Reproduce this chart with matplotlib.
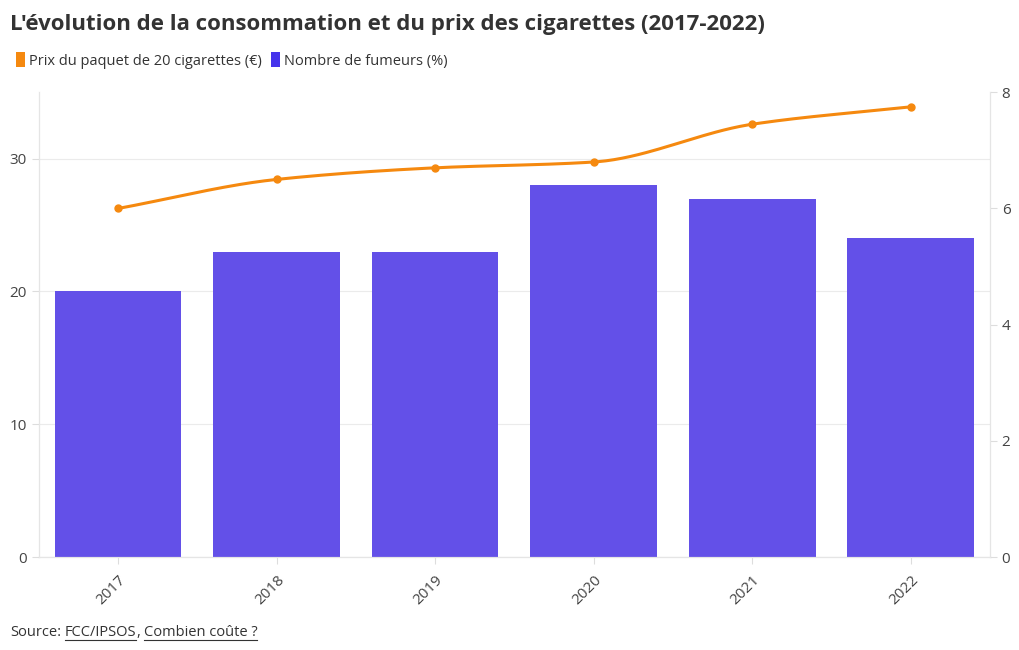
import numpy as np
import matplotlib
matplotlib.use("Agg")
import matplotlib.pyplot as plt
from matplotlib.patches import Patch

plt.rcParams['font.family'] = ['Open Sans', 'DejaVu Sans']

years = ["2017", "2018", "2019", "2020", "2021", "2022"]
fumeurs = [20, 23, 23, 28, 27, 24]            # Nombre de fumeurs (%)
prix = [6.0, 6.5, 6.7, 6.8, 7.45, 7.75]       # Prix du paquet (EUR)

bar_color = "#6350E8"
legend_blue = "#4634EC"
orange = "#F5890F"
text_color = "#333333"
grid_color = "#EBEBEB"


def monotone_curve(x, y, n=40):
    # monotone cubic (Fritsch-Carlson) just for drawing the smooth line
    x = np.asarray(x, float)
    y = np.asarray(y, float)
    h = np.diff(x)
    d = np.diff(y) / h
    m = np.zeros_like(y)
    m[0], m[-1] = d[0], d[-1]
    for i in range(1, len(y) - 1):
        if d[i - 1] * d[i] <= 0:
            m[i] = 0
        else:
            w1 = 2 * h[i] + h[i - 1]
            w2 = h[i] + 2 * h[i - 1]
            m[i] = (w1 + w2) / (w1 / d[i - 1] + w2 / d[i])
    xs, ys = [], []
    for i in range(len(x) - 1):
        t = np.linspace(0, 1, n)
        h00 = 2 * t**3 - 3 * t**2 + 1
        h10 = t**3 - 2 * t**2 + t
        h01 = -2 * t**3 + 3 * t**2
        h11 = t**3 - t**2
        xs.append(x[i] + t * h[i])
        ys.append(h00 * y[i] + h10 * h[i] * m[i] + h01 * y[i + 1] + h11 * h[i] * m[i + 1])
    return np.concatenate(xs), np.concatenate(ys)


fig = plt.figure(figsize=(10.2, 6.5), dpi=100)
ax = fig.add_axes([0.038, 0.143, 0.9325, 0.715])
pos = np.arange(len(years))

ax.bar(pos, fumeurs, width=0.8, color=bar_color, zorder=2)
ax.set_xlim(-0.5, len(years) - 0.5)
ax.set_ylim(0, 35)
ax.set_yticks([0, 10, 20, 30])
ax.grid(axis="y", color=grid_color, linewidth=0.8, zorder=0)
ax.set_xticks(pos)
ax.set_xticklabels(years, rotation=45, ha="right", rotation_mode="anchor")
ax.tick_params(axis="both", colors="#DDDDDD", labelcolor="#444444", labelsize=11, length=5)
ax.tick_params(axis="x", pad=6)

ax2 = ax.twinx()
ax2.set_ylim(0, 8)
ax2.set_yticks([0, 2, 4, 6, 8])
ax2.tick_params(axis="y", colors="#DDDDDD", labelcolor="#444444", labelsize=11, length=5)
cx, cy = monotone_curve(pos, prix)
ax2.plot(cx, cy, color=orange, linewidth=2.2, zorder=3)
ax2.plot(pos, prix, "o", color=orange, markersize=5, zorder=4)

for a in (ax, ax2):
    a.spines["top"].set_visible(False)
    a.spines["bottom"].set_color("#E5E5E5")
    a.spines["left"].set_color("#E5E5E5")
    a.spines["right"].set_color("#E5E5E5")

fig.text(0.010, 0.962, "L'évolution de la consommation et du prix des cigarettes (2017-2022)",
         fontsize=16, fontweight="bold", color=text_color, va="center", ha="left")

handles = [Patch(facecolor=orange, edgecolor="none", label="Prix du paquet de 20 cigarettes (€)"),
           Patch(facecolor=legend_blue, edgecolor="none", label="Nombre de fumeurs (%)")]
fig.legend(handles=handles, loc="center left", bbox_to_anchor=(0.003, 0.907), ncol=2,
           frameon=False, fontsize=10.5, handlelength=0.6, handleheight=1.2,
           handletextpad=0.3, columnspacing=0.6, labelcolor="#333333")

# source line with underlined links
fig.canvas.draw()
renderer = fig.canvas.get_renderer()
x0 = 0.010
yb = 0.022
parts = [("Source:", False), (" ", False), ("FCC/IPSOS", True), (",", False), (" ", False),
         ("Combien coûte ?", True)]
space_w = 0.0035
for txt, under in parts:
    if txt == " ":
        x0 += space_w
        continue
    t = fig.text(x0, yb, txt, fontsize=10.5, color=text_color, ha="left", va="baseline")
    bb = t.get_window_extent(renderer).transformed(fig.transFigure.inverted())
    if under:
        fig.add_artist(plt.Line2D([bb.x0, bb.x1], [yb - 0.006, yb - 0.006],
                                  transform=fig.transFigure, color=text_color, linewidth=0.8))
    x0 = bb.x1

fig.savefig("out.png", dpi=100)
